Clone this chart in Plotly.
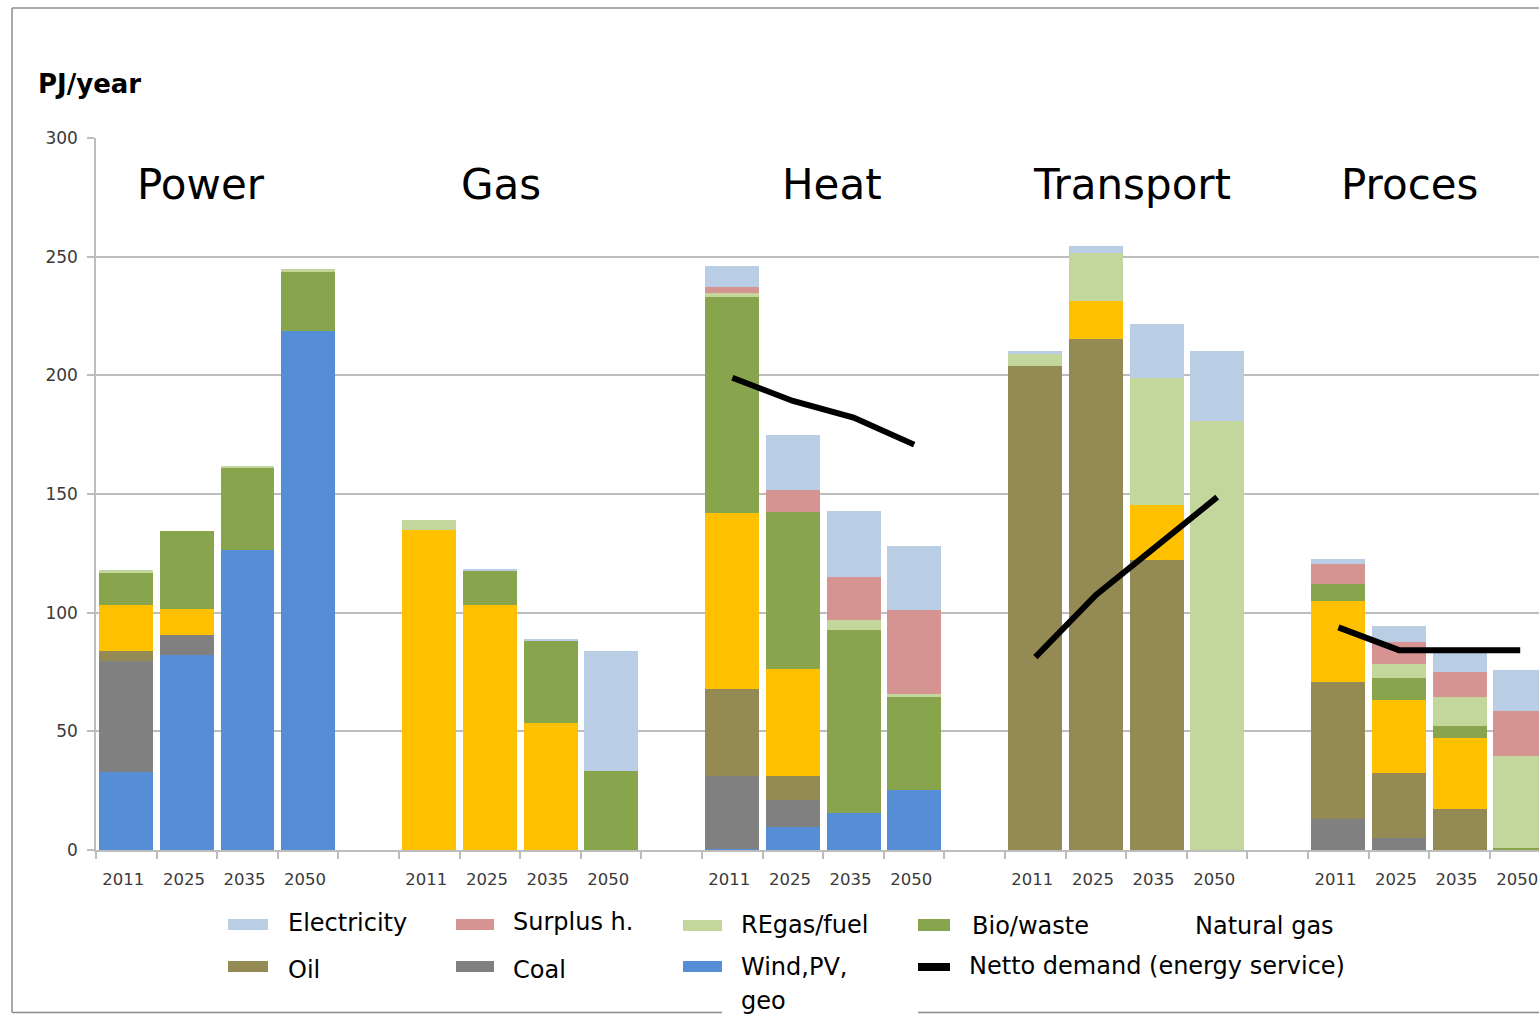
import plotly.graph_objects as go

# Sectors and scenario years (4 bars per sector, one empty slot between sectors)
sectors = ["Power", "Gas", "Heat", "Transport", "Proces"]
years = ["2011", "2025", "2035", "2050"]

# PJ/year per energy carrier, ordered Power, Gas, Heat, Transport, Proces x 2011/2025/2035/2050
wind_pv_geo = [33.0, 82.0, 126.5, 218.5,  0, 0, 0, 0,  0.5, 9.5, 15.5, 25.3,  0, 0, 0, 0,  0, 0, 0, 0]
coal = [46.5, 8.5, 0, 0,  0, 0, 0, 0,  30.8, 11.7, 0, 0,  0, 0, 0, 0,  12.9, 4.9, 0, 0]
oil = [4.4, 0, 0, 0,  0, 0, 0, 0,  36.7, 10.1, 0, 0,  203.8, 215.5, 122.1, 0,  57.7, 27.5, 17.1, 0]
natural_gas = [19.2, 11.2, 0, 0,  134.8, 103.1, 53.4, 0,  74.0, 44.8, 0, 0,  0, 15.8, 23.1, 0,  34.2, 30.7, 30.2, 0]
bio_waste = [13.8, 32.9, 34.5, 25.3,  0, 14.5, 34.8, 33.3,  91.2, 66.2, 77.4, 39.2,  0, 0, 0, 0,  7.4, 9.2, 5.1, 0.8]
regas_fuel = [1.0, 0, 0.8, 0.8,  4.2, 0, 0, 0,  1.4, 0, 4.0, 1.4,  5.3, 20.1, 53.7, 180.7,  0, 6.1, 11.9, 38.9]
surplus_heat = [0, 0, 0, 0,  0, 0, 0, 0,  2.6, 9.5, 18.2, 35.1,  0, 0, 0, 0,  8.2, 9.4, 10.7, 19.0]
electricity = [0, 0, 0, 0,  0, 0.4, 0.8, 50.6,  8.9, 23.2, 27.8, 27.2,  1.2, 3.2, 22.6, 29.6,  2.1, 6.7, 9.5, 17.0]

# Netto demand (energy service) for the sectors where it is shown
netto_heat = [199.0, 189.2, 182.2, 170.8]
netto_transport = [81.3, 107.5, 128.0, 148.7]
netto_proces = [93.8, 84.2, 84.2, 84.2]

colors = {
    "Electricity": "#B9CDE5",
    "Surplus h.": "#D59391",
    "REgas/fuel": "#C3D69B",
    "Bio/waste": "#88A44C",
    "Natural gas": "#FFC000",
    "Oil": "#948A54",
    "Coal": "#808080",
    "Wind,PV, geo": "#558ED5",
}

# stacking order, bottom to top
stack = [
    ("Wind,PV, geo", wind_pv_geo),
    ("Coal", coal),
    ("Oil", oil),
    ("Natural gas", natural_gas),
    ("Bio/waste", bio_waste),
    ("REgas/fuel", regas_fuel),
    ("Surplus h.", surplus_heat),
    ("Electricity", electricity),
]

slot = 5  # 4 years + 1 spacer per sector
xpos = [slot * g + i for g in range(len(sectors)) for i in range(len(years))]
xlabels = [y for _ in sectors for y in years]

fig = go.Figure()
for name, vals in stack:
    fig.add_trace(go.Bar(
        x=xpos, y=vals, name=name, width=0.89,
        marker=dict(color=colors[name], line=dict(width=0)),
        showlegend=False,
    ))

# Netto demand lines (Heat, Transport, Proces)
lx, ly = [], []
for g, vals in [(2, netto_heat), (3, netto_transport), (4, netto_proces)]:
    lx += [slot * g + i for i in range(len(years))] + [None]
    ly += list(vals) + [None]
fig.add_trace(go.Scatter(
    x=lx, y=ly, mode="lines", name="Netto demand (energy service)",
    line=dict(color="black", width=6), connectgaps=False, showlegend=False,
))

FONT = "DejaVu Sans"
TICK_COLOR = "#3a3a3a"
GRID = "#BDBDBD"

fig.update_layout(
    width=1539, height=1014,
    margin=dict(l=96, r=0, t=138, b=164, pad=0),
    paper_bgcolor="white", plot_bgcolor="white",
    barmode="stack",
    font=dict(family=FONT, color="black"),
    showlegend=False,
)

fig.update_xaxes(
    range=[-0.5, 23.31],
    tickmode="array", tickvals=xpos, ticktext=xlabels,
    ticks="", tickfont=dict(size=16.5, color=TICK_COLOR, family=FONT),
    ticklabelstandoff=13, ticklabelshift=-3,
    showgrid=False, zeroline=False,
    showline=True, linecolor=GRID, linewidth=1.5,
    minor=dict(ticks="outside", tick0=0.5, dtick=1, ticklen=7,
               tickcolor=GRID, tickwidth=1.5, showgrid=False),
)
fig.update_yaxes(
    range=[0, 300], tickvals=[0, 50, 100, 150, 200, 250, 300],
    ticks="outside", ticklen=7, tickcolor=GRID, tickwidth=1.5,
    tickfont=dict(size=17, color=TICK_COLOR, family=FONT),
    ticklabelstandoff=6,
    showgrid=True, gridcolor=GRID, gridwidth=1.5,
    zeroline=False, showline=True, linecolor=GRID, linewidth=1.5,
)

# Sector titles inside the plot
title_x = [1.23, 6.18, 11.65, 16.6, 21.17]
for sx, name in zip(title_x, sectors):
    fig.add_annotation(x=sx, y=280.6, xref="x", yref="y", text=name,
                       showarrow=False, xanchor="center", yanchor="middle",
                       font=dict(size=42, family=FONT, color="black"))

# Unit label
PW, PH, L, B = 1443.0, 712.0, 96.0, 850.0


def px(xp):
    return (xp - L) / PW


def py(yp):
    return (B - yp) / PH


fig.add_annotation(x=px(36), y=py(84), xref="paper", yref="paper",
                   text="<b>PJ/year</b>", showarrow=False,
                   xanchor="left", yanchor="middle",
                   font=dict(size=26, family=FONT, color="black"))

# Legend: swatch rectangles and labels
LEG_SIZE = 24
legend_items = [
    # name, swatch x0, x1, swatch y0, y1, text x, text y
    ("Electricity", 228, 268, 919, 930, 286, 923),
    ("Surplus h.", 456, 494, 919, 930, 511, 922),
    ("REgas/fuel", 683, 722, 920, 931, 739, 925),
    ("Bio/waste", 918, 950, 919, 931, 970, 926),
    ("Natural gas", None, None, None, None, 1193, 926),
    ("Oil", 228, 268, 961, 972, 286, 970),
    ("Coal", 456, 494, 961, 972, 511, 970),
    ("Wind,PV, geo", 683, 722, 961, 972, 739, 967),
]
for name, x0, x1, y0, y1, tx, ty in legend_items:
    if x0 is not None:
        fig.add_shape(type="rect", xref="paper", yref="paper",
                      x0=px(x0), x1=px(x1), y0=py(y1), y1=py(y0),
                      fillcolor=colors[name], line=dict(width=0))
    label = "Wind,PV," if name == "Wind,PV, geo" else name
    fig.add_annotation(x=px(tx), y=py(ty), xref="paper", yref="paper",
                       text=label, showarrow=False, xanchor="left", yanchor="middle",
                       font=dict(size=LEG_SIZE, family=FONT, color="black"))
fig.add_annotation(x=px(739), y=py(1001), xref="paper", yref="paper",
                   text="geo", showarrow=False, xanchor="left", yanchor="middle",
                   font=dict(size=LEG_SIZE, family=FONT, color="black"))

# Netto demand legend entry
fig.add_shape(type="rect", xref="paper", yref="paper",
              x0=px(918), x1=px(950), y0=py(971), y1=py(963),
              fillcolor="black", line=dict(width=0))
fig.add_annotation(x=px(967), y=py(966), xref="paper", yref="paper",
                   text="Netto demand (energy service)", showarrow=False,
                   xanchor="left", yanchor="middle",
                   font=dict(size=LEG_SIZE, family=FONT, color="black"))

# Outer chart frame
FRAME = "#8C8C8C"
for x0, y0, x1, y1 in [(12, 8, 12, 1012.5), (12, 8, 1539, 8),
                       (12, 1012.5, 722, 1012.5), (918, 1012.5, 1539, 1012.5)]:
    fig.add_shape(type="line", xref="paper", yref="paper",
                  x0=px(x0), y0=py(y0), x1=px(x1), y1=py(y1),
                  line=dict(color=FRAME, width=1.5))

fig.write_html("out.html")
